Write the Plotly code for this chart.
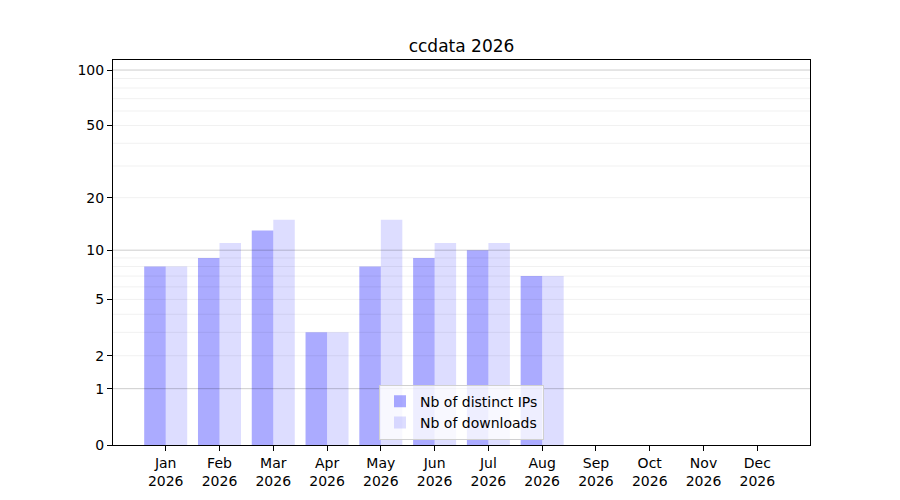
import plotly.graph_objects as go

months = ["Jan", "Feb", "Mar", "Apr", "May", "Jun", "Jul", "Aug", "Sep", "Oct", "Nov", "Dec"]
year = "2026"
distinct_ips = [8, 9, 13, 3, 8, 9, 10, 7]
downloads = [8, 11, 15, 3, 15, 11, 11, 7]

y_ticks = [0, 1, 2, 5, 10, 20, 50, 100]
major_grid = [1, 10, 100]
minor_grid = [2, 3, 4, 5, 6, 7, 8, 9, 20, 30, 40, 50, 60, 70, 80, 90]

# y axis is log10(1 + v), done with a log axis on shifted values
shift = lambda vals: [v + 1 for v in vals]

x_pos = list(range(len(distinct_ips)))

fig = go.Figure()
fig.add_trace(go.Bar(x=x_pos, y=shift(distinct_ips), name="Nb of distinct IPs",
                     marker=dict(color="rgba(0,0,255,0.33)", line_width=0)))
fig.add_trace(go.Bar(x=x_pos, y=shift(downloads), name="Nb of downloads",
                     marker=dict(color="rgba(0,0,255,0.135)", line_width=0)))

fig.update_layout(
    width=900, height=500,
    margin=dict(l=105, r=98, t=52, b=63),
    paper_bgcolor="white", plot_bgcolor="white",
    font=dict(family="DejaVu Sans", size=14, color="black"),
    title=dict(text="ccdata " + year, x=0.5, xref="paper", xanchor="center",
               y=0.924, yanchor="middle", font=dict(size=17)),
    barmode="group", bargap=0.2, bargroupgap=0,
    legend=dict(x=0.5, xanchor="center", y=0.014, yanchor="bottom",
                bgcolor="rgba(255,255,255,0.8)", bordercolor="#d0d0d0", borderwidth=1,
                font=dict(size=14), tracegroupgap=0),
    showlegend=True,
)
fig.update_xaxes(
    range=[-0.98, 11.98],
    tickmode="array", tickvals=list(range(len(months))),
    ticktext=[m + "<br>" + year for m in months],
    ticks="outside", ticklen=5, tickcolor="black",
    showline=True, linecolor="black", linewidth=1, mirror=True,
    showgrid=False, zeroline=False,
)
fig.update_yaxes(
    type="log", range=[0, 2.058],
    tickmode="array", tickvals=shift(y_ticks), ticktext=[str(t) for t in y_ticks],
    ticks="outside", ticklen=5, tickcolor="black",
    showline=True, linecolor="black", linewidth=1, mirror=True,
    showgrid=False, zeroline=False,
)
for v in major_grid:
    fig.add_hline(y=v + 1, line=dict(color="rgba(0,0,0,0.2)", width=1), layer="above")
for v in minor_grid:
    fig.add_hline(y=v + 1, line=dict(color="rgba(0,0,0,0.06)", width=1), layer="above")

fig.write_html("out.html")
